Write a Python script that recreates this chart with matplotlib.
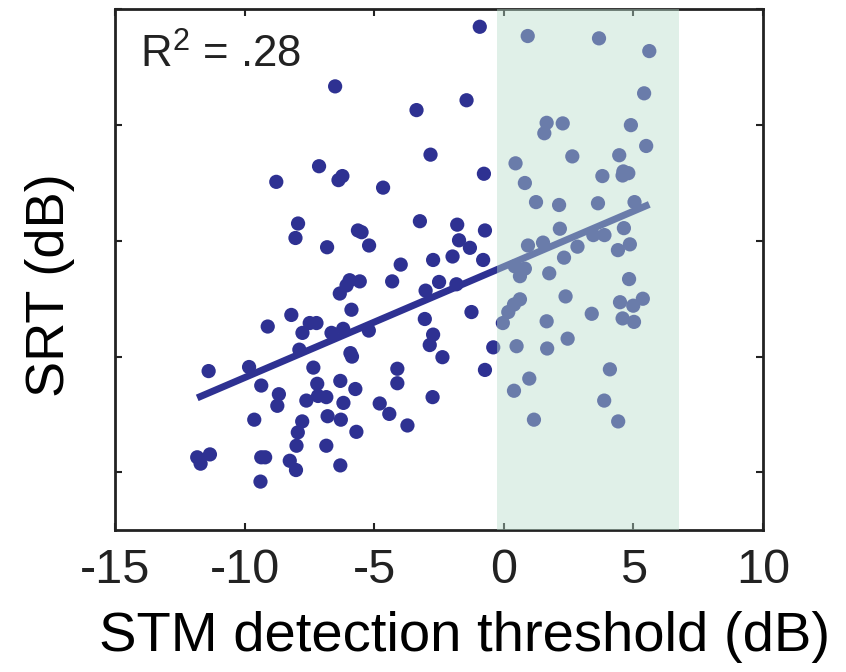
import numpy as np
import matplotlib
matplotlib.use("Agg")
from matplotlib import pyplot as plt

plt.rcParams['font.family'] = ['Liberation Sans', 'DejaVu Sans']

# STM detection threshold (dB) and SRT (dB)
stm = np.array([
    -0.93, -6.51, -3.37, -1.44, -2.83, -0.77, -8.78, -7.13, -6.38, -6.23,
    -4.66, -7.94, -8.04, -6.82, -5.63, -5.49, -5.20, -3.24, -1.80, -1.73,
    -1.31, -0.73, -0.80, -1.98, -2.73, -3.98, -5.95, -5.56, -6.07, -6.33,
    -5.88, -4.31, -3.02, -2.50, -1.83, -1.25, -3.05, -2.73, -2.86, -2.37,
    -0.41, -0.73, -2.75, -4.11, -4.11, -4.79, -4.42, -3.72, -5.73, -6.31,
    -6.19, -6.29, -5.69, -6.80, -6.85, -6.31, -7.20, -7.62, -7.17, -6.85,
    -7.35, -5.92, -5.86, -5.21, -6.65, -6.20, -7.49, -7.23, -7.77, -8.20,
    -9.11, -7.89, -9.83, -9.36, -11.39, -8.68, -8.74, -9.63, -7.78, -7.95,
    -8.00, -9.36, -9.21, -8.26, -8.02, -9.39, -11.83, -11.70, -11.34,
    0.92, 3.67, 5.61, 5.41, 1.65, 1.56, 2.27, 4.90, 5.49, 2.64,
    0.45, 4.45, 4.61, 4.80, 4.58, 3.80, 0.81, 1.24, 2.13, 3.63,
    5.04, 2.16, 4.63, 0.93, 1.51, 2.84, 3.45, 3.88, 4.86, 4.40,
    2.32, 1.75, 4.83, 0.42, 0.81, 0.62, 2.38, 0.62, 0.39, 0.17,
    -0.04, 1.65, 3.39, 4.48, 4.99, 5.36, 4.58, 5.02, 0.49, 1.67,
    2.46, 4.09, 0.98, 0.39, 3.87, 1.16, 4.41,
])
srt = np.array([
    -0.30, -1.33, -1.74, -1.57, -2.51, -2.84, -2.98, -2.71, -2.95, -2.88,
    -3.08, -3.70, -3.95, -4.11, -3.82, -3.85, -4.08, -3.66, -3.72, -3.99,
    -4.12, -3.82, -4.33, -4.27, -4.33, -4.41, -4.68, -4.70, -4.77, -4.91,
    -5.19, -4.70, -4.86, -4.71, -4.75, -5.23, -5.35, -5.62, -5.80, -6.01,
    -5.84, -6.23, -6.70, -6.21, -6.46, -6.81, -6.99, -7.19, -6.56, -6.42,
    -6.80, -7.09, -7.30, -7.03, -7.54, -7.88, -6.47, -6.76, -6.68, -6.70,
    -6.19, -5.94, -6.00, -5.55, -5.59, -5.52, -5.42, -5.42, -5.59, -5.28,
    -5.48, -5.88, -6.18, -6.50, -6.25, -6.65, -6.85, -7.09, -7.12, -7.31,
    -7.54, -7.74, -7.74, -7.80, -7.96, -8.16, -7.74, -7.85, -7.69,
    -0.46, -0.50, -0.72, -1.45, -1.96, -2.14, -1.97, -2.00, -2.36, -2.54,
    -2.66, -2.52, -2.80, -2.83, -2.87, -2.88, -3.00, -3.33, -3.38, -3.35,
    -3.33, -3.79, -3.78, -4.08, -4.03, -4.10, -3.90, -3.90, -4.06, -4.16,
    -4.29, -4.56, -4.66, -4.44, -4.48, -4.61, -4.96, -5.01, -5.10, -5.23,
    -5.42, -5.39, -5.26, -5.06, -5.12, -5.00, -5.34, -5.40, -5.82, -5.86,
    -5.69, -6.22, -6.38, -6.59, -6.76, -7.09, -7.12,
])

# shaded band (normal-hearing range of STM thresholds)
band = (-0.25, 6.75)
r2_text = '$\\mathregular{R^2}$ = .28'

fig = plt.figure(figsize=(8.46, 6.72), dpi=100)
ax = fig.add_axes([0.136, 0.211, 0.766, 0.775])

ax.scatter(stm, srt, s=105, color='#2e3192', edgecolors='none', zorder=2)

slope, intercept = np.polyfit(stm, srt, 1)
xl = np.array([stm.min(), stm.max()])
ax.plot(xl, slope * xl + intercept, color='#2e3192', lw=5,
        solid_capstyle='butt', zorder=3)

# band sits on top, semi-transparent, so marks inside look paler
ax.axvspan(band[0], band[1], color='#b9ddcb', alpha=0.44, lw=0, zorder=4)

ax.text(-14.05, -1.0, r2_text, fontsize=31.5, color='#222222',
        va='baseline', zorder=5)

ax.set_xlim(-15, 10)
ax.set_ylim(-9, 0)
ax.set_xticks([-15, -10, -5, 0, 5, 10])
ax.set_xticklabels(['-15', '-10', '-5', '0', '5', '10'])
ax.set_yticks([-8, -6, -4, -2, 0])
ax.set_yticklabels([])
ax.tick_params(direction='in', length=5, width=1.5, top=True, right=True,
               labelsize=35, pad=13, colors='#222222')
for sp in ax.spines.values():
    sp.set_linewidth(2)
    sp.set_color('#222222')

ax.set_xlabel('STM detection threshold (dB)', fontsize=40.5)
ax.xaxis.set_label_coords(0.539, -0.155)
ax.set_ylabel('SRT (dB)', fontsize=39)
ax.yaxis.set_label_coords(-0.062, 0.47)

fig.savefig('out.png', dpi=100)
